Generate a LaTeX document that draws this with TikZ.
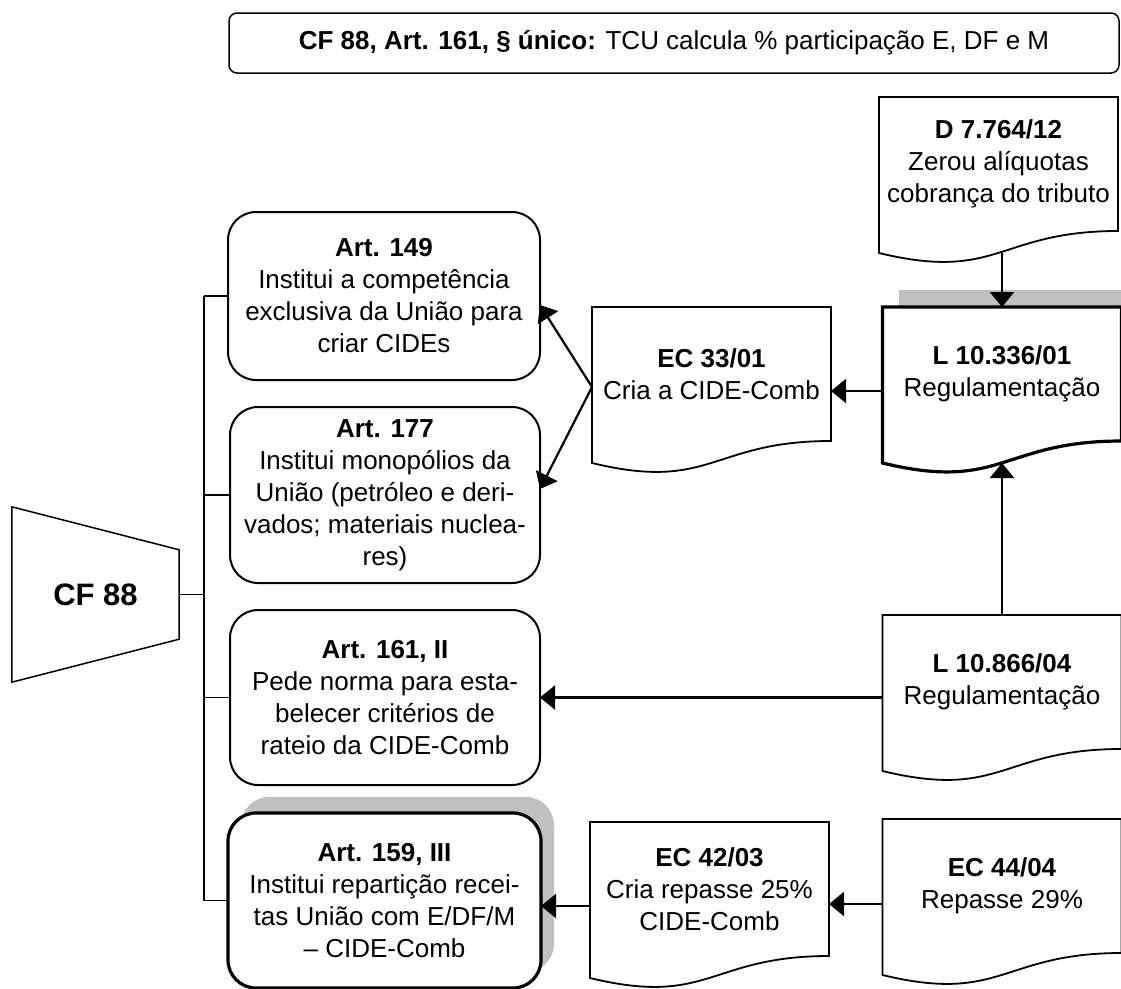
\documentclass[tikz,border=0pt]{standalone}
\usepackage{fontspec}
\setmainfont{Liberation Sans}
\usetikzlibrary{arrows.meta,shadows,calc,backgrounds}

\definecolor{shadowgray}{RGB}{192,192,192}

\tikzset{
  rulebox/.style={draw, rounded corners=8pt, line width=1.5pt, minimum width=890pt, minimum height=60pt, inner sep=0pt},
  artbox/.style={draw, rounded corners=28pt, line width=2pt, fill=white, align=center, inner sep=0pt, outer sep=0pt},
  docbox/.style={minimum width=239pt, minimum height=134pt, inner sep=0pt, outer sep=0pt, align=center},
  docline/.style={draw, line width=1.8pt, fill=white},
  arr/.style={line width=2.2pt, -{Triangle[length=15pt,width=24pt]}},
  bus/.style={line width=1.3pt},
}

% document shape under a docbox node
\newcommand{\docoutline}[2][]{%
  \path[docline,#1] (#2.north west) -- (#2.north east) -- (#2.south east)
    .. controls (#2.south) and ($(#2.south)+(0,51)$) .. ($(#2.south west)+(0,22)$) -- cycle;}

\begin{document}
\begin{tikzpicture}[x=1pt, y=-1pt, every node/.style={font=\fontsize{26pt}{32pt}\selectfont}]

    \useasboundingbox (0,0) rectangle (1121,988);

    % Nodes
    \node[rulebox] (tcu) at (674,43) {\textbf{CF 88, Art. 161, § único:} TCU calcula \% participação E, DF e M};

    \node[minimum width=167pt, minimum height=175pt, inner sep=0pt, font=\fontsize{31pt}{36pt}\selectfont\bfseries] (cf) at (95.5,594.5) {CF 88};

    \node[artbox, minimum width=312pt, minimum height=168pt] (art149) at (384,296)
      {\textbf{Art. 149}\\Institui a competência\\exclusiva da União para\\criar CIDEs};
    \node[artbox, minimum width=310pt, minimum height=176pt] (art177) at (385,495)
      {\textbf{Art. 177}\\Institui monopólios da\\União (petróleo e deri-\\vados; materiais nuclea-\\res)};
    \node[artbox, minimum width=310pt, minimum height=175pt] (art161) at (385,697.5)
      {\textbf{Art. 161, II}\\Pede norma para esta-\\belecer critérios de\\rateio da CIDE-Comb};
    \node[artbox, minimum width=313pt, minimum height=175pt, line width=3.2pt,
      drop shadow={shadow xshift=13pt, shadow yshift=16pt, fill=shadowgray, opacity=1}] (art159) at (384.5,900.5)
      {\textbf{Art. 159, III}\\Institui repartição recei-\\tas União com E/DF/M\\-- CIDE-Comb};

    \node[docbox] (ec33) at (711.5,374) {\textbf{EC 33/01}\\Cria a CIDE-Comb};
    \node[docbox] (ec42) at (709.5,889) {\textbf{EC 42/03}\\Cria repasse 25\%\\CIDE-Comb};
    \node[docbox] (dec) at (998.5,164) {\textbf{D 7.764/12}\\Zerou alíquotas\\cobrança do tributo};
    \node[docbox] (l10336) at (1002,374) {\textbf{L 10.336/01}\\Regulamentação};
    \node[docbox] (l10866) at (1002,682) {\textbf{L 10.866/04}\\Regulamentação};
    \node[docbox] (ec44) at (1002,886) {\textbf{EC 44/04}\\Repasse 29\%};

    \coordinate (bus) at (204,0);

    % Shapes
    \begin{pgfonlayer}{background}
      \fill[shadowgray] ($(l10336.north west)+(16,-17)$) rectangle (l10336.south east);
      \docoutline{ec33}
      \docoutline{ec42}
      \docoutline{dec}
      \docoutline[line width=3.2pt]{l10336}
      \docoutline{l10866}
      \docoutline{ec44}
    \end{pgfonlayer}

    \draw[line width=1.5pt] (cf.north west) -- ($(cf.north east)+(0,43)$) -- ($(cf.south east)+(0,-43)$) -- (cf.south west) -- cycle;

    % Edges
    \draw[bus] (cf.east) -- (cf.east -| bus);
    \draw[bus] (art149.west -| bus) -- (art159.west -| bus);
    \foreach \n in {art149,art177,art161,art159}
      \draw[bus] (\n.west -| bus) -- (\n.west);

    \draw[arr] ($(l10336.north |- dec.south)+(0,22)$) -- (l10336.north);
    \draw[arr] (l10866.north) -- ($(l10866.north |- l10336.south)+(0,22)$);
    \draw[arr] ($(l10336.west)+(0,17)$) -- ($(ec33.east)+(0,17)$);
    \draw[arr] ($(ec33.west)+(0,13)$) -- ($(art149.east)+(0,9)$);
    \draw[arr] ($(ec33.west)+(0,13)$) -- ($(art177.east)+(0,-6)$);
    \draw[arr] (l10866.west |- art161.east) -- (art161.east);
    \draw[arr] ($(ec44.west)+(0,18)$) -- ($(ec42.east)+(0,15)$);
    \draw[arr] ($(ec42.west)+(0,17)$) -- ($(art159.east)+(0,5.5)$);

\end{tikzpicture}
\end{document}
